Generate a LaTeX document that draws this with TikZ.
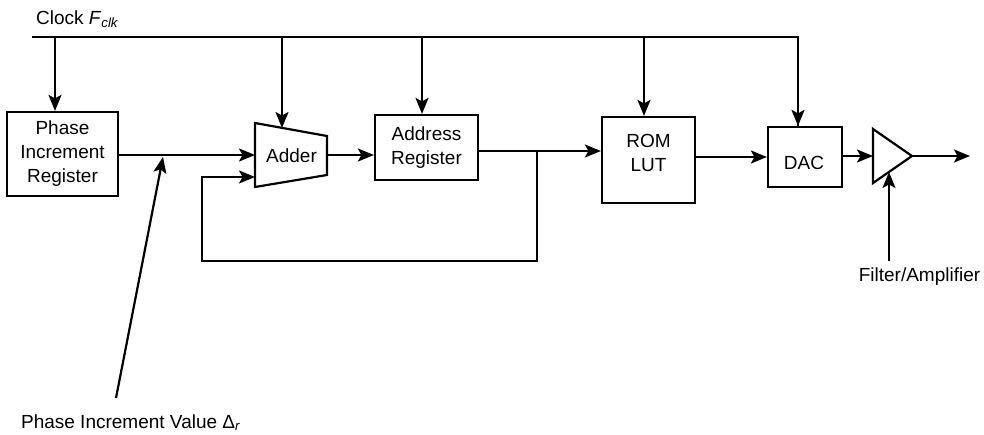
\documentclass[tikz,border=0pt]{standalone}
\usepackage{fontspec}
\setmainfont{Liberation Sans}
\usetikzlibrary{arrows.meta,calc}
\begin{document}
\begin{tikzpicture}[x=1pt,y=-1pt,line width=2.2pt,
  arr/.style={-{Stealth[length=16pt,width=13pt,inset=3.5pt]}},
  txt/.style={font=\fontsize{19}{24}\selectfont,inner sep=0pt,align=center},
  block/.style={draw,line width=2.2pt,inner sep=0pt,txt}]
\useasboundingbox (0,0) rectangle (984,434);

% blocks
\node[block,minimum width=111pt,minimum height=84pt] (pir) at (62.5,154) {Phase\\Increment\\Register};
\node[block,minimum width=103pt,minimum height=65pt] (addr) at (426.5,147.5) {Address\\Register};
\node[block,minimum width=93pt,minimum height=86pt] (rom) at (648.5,160) {};
\node[txt] (romtxt) at ($(rom.center)+(0,-7)$) {ROM\\LUT};
\node[block,minimum width=74pt,minimum height=60pt] (dac) at (805,157) {};
\node[txt] (dactxt) at ($(dac.center)+(-1,6)$) {DAC};

% adder (trapezoid)
\coordinate (addTL) at (255,123);
\coordinate (addBL) at (255,187);
\coordinate (addTR) at (327,136);
\coordinate (addBR) at (327,175);
\draw[line join=miter] (addTL) -- (addTR) -- (addBR) -- (addBL) -- cycle;
\node[txt] (adder) at (291.5,156) {Adder};
\coordinate (addIn1) at (255,155);
\coordinate (addIn2) at (255,177);
\coordinate (addOut) at (327,155);
\coordinate (addTop) at (282,128);

% filter/amplifier (triangle)
\coordinate (ampL) at (873,156);
\coordinate (ampTop) at (873,129);
\coordinate (ampBot) at (873,183);
\coordinate (ampTip) at (912,156);
\coordinate (ampIn) at (889,172);
\draw (ampTop) -- (ampTip) -- (ampBot) -- cycle;
\coordinate (out) at (970,156);

% clock distribution
\node[txt,anchor=base west] (clk) at (35,24) {Clock \textit{F}\textsubscript{\textit{clk}}};
\coordinate (c0) at (32,37);
\coordinate (c1) at (55,37);
\coordinate (c2) at (282,37);
\coordinate (c3) at (422,37);
\coordinate (c4) at (644,37);
\coordinate (c5) at (798,37);
\draw (c0) -- (c5) -- (c5 |- dac.north);
\draw[arr] (c1) -- (c1 |- pir.north);
\draw[arr] (c2) -- (addTop);
\draw[arr] (c3) -- (c3 |- addr.north);
\draw[arr] (c4) -- (c4 |- rom.north);
\draw[arr] (c5 |- dac.north) ++(0,-1) -- (c5 |- dac.north);

% data path
\draw[arr] (pir.east |- addIn1) -- (addIn1);
\draw[arr] (addOut) -- (addOut -| addr.west);
\coordinate (tap) at (537,151);
\coordinate (fbR) at (537,261);
\coordinate (fbL) at (202,261);
\draw (tap -| addr.east) -- (tap);
\draw[arr] (tap) -- (tap -| rom.west);
\draw[arr] (tap) -- (fbR) -- (fbL) -- (fbL |- addIn2) -- (addIn2);
\draw[arr] (rom.east |- dac.west) -- (dac.west);
\draw[arr] (dac.east |- ampL) -- (ampL);
\draw[arr] (ampTip) -- (out);

% phase increment value input
\coordinate (pivS) at (116,398);
\coordinate (pivT) at (163,157);
\draw[arr] (pivS) -- (pivT);
\node[txt,anchor=base west] (piv) at (20,428) {Phase Increment Value Δ\textsubscript{\textit{r}}};

% filter/amplifier label
\coordinate (filS) at (889,261);
\draw[arr] (filS) -- (ampIn);
\node[txt,anchor=base] (fil) at (919.5,281) {Filter/Amplifier};
\end{tikzpicture}
\end{document}
